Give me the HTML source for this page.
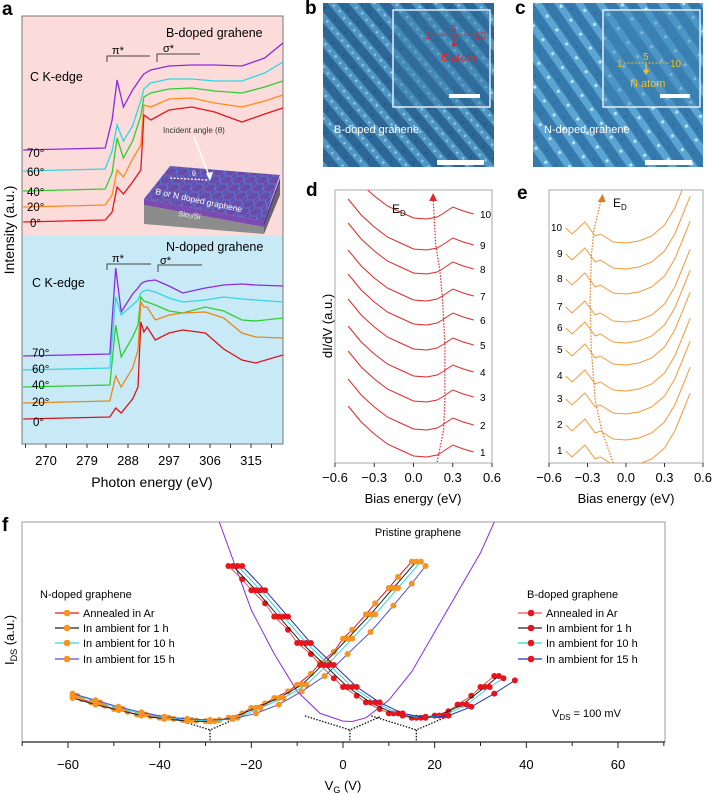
<!DOCTYPE html>
<html><head><meta charset="utf-8"><style>
body{margin:0;background:#fff}
svg{display:block;font-family:"Liberation Sans",Arial,sans-serif}
</style></head><body>
<svg id="fig" width="713" height="795" viewBox="0 0 713 795" xmlns="http://www.w3.org/2000/svg">
<defs>
<pattern id="stmB" width="16" height="16" patternUnits="userSpaceOnUse" patternTransform="rotate(50)">
<rect width="16" height="16" fill="#2c6797"/><rect width="16" height="7" fill="#4f95c2"/>
<circle cx="3" cy="3" r="1.3" fill="#8fcbe6"/><circle cx="11" cy="4" r="1.2" fill="#8fcbe6"/><circle cx="7" cy="12" r="1" fill="#1e4f7c"/>
</pattern>
<pattern id="stmN" width="17" height="17" patternUnits="userSpaceOnUse" patternTransform="rotate(55)">
<rect width="17" height="17" fill="#3579ad"/><rect width="17" height="7" fill="#5aa5d2"/>
<circle cx="4" cy="3" r="1.6" fill="#b8e6f6"/><circle cx="12" cy="13" r="1" fill="#2a6496"/>
</pattern>
<pattern id="hex" width="12" height="8" patternUnits="userSpaceOnUse" patternTransform="skewX(-30)">
<rect width="12" height="8" fill="#6b4aa8"/><path d="M0 4 L3 0 L9 0 L12 4 L9 8 L3 8 Z" fill="none" stroke="#4f7fd8" stroke-width="0.8"/>
</pattern>
<clipPath id="clipF"><rect x="22" y="522" width="643" height="220"/></clipPath>
<clipPath id="clipD"><rect x="335" y="190" width="157" height="273"/></clipPath>
<clipPath id="clipE"><rect x="549" y="190" width="154" height="273"/></clipPath>
</defs>

<!-- Panel a -->
<text x="2" y="15" font-size="19" font-weight="bold">a</text>
<rect x="22" y="16" width="261" height="219" fill="#fbdcdb"/>
<rect x="22" y="235" width="261" height="209" fill="#c7eaf6"/>
<rect x="22" y="16" width="261" height="428" fill="none" stroke="#777" stroke-width="1"/>
<g id="aCurves"></g>
<g id="aTicks"></g>
<text x="152" y="487" font-size="14" text-anchor="middle">Photon energy (eV)</text>
<text transform="translate(14,230) rotate(-90)" font-size="14" text-anchor="middle">Intensity (a.u.)</text>
<text x="166" y="37" font-size="12.5">B-doped grahene</text>
<text x="30" y="81" font-size="12.5">C K-edge</text>
<text x="166" y="251" font-size="12.5">N-doped grahene</text>
<text x="32" y="287" font-size="12.5">C K-edge</text>
<g stroke="#444" fill="none" stroke-width="1">
<path d="M107 62 V56 H150"/><path d="M157 62 V54 H200"/>
<path d="M107 270 V264 H151"/><path d="M158 272 V265 H202"/>
</g>
<text x="112" y="54" font-size="11">π*</text>
<text x="163" y="52" font-size="11">σ*</text>
<text x="112" y="262" font-size="11">π*</text>
<text x="160" y="264" font-size="11">σ*</text>
<g font-size="11.5">
<text x="27" y="157">70°</text><text x="27" y="176">60°</text><text x="27" y="196">40°</text><text x="27" y="211">20°</text><text x="30" y="227">0°</text>
<text x="32" y="357">70°</text><text x="32" y="373">60°</text><text x="32" y="389">40°</text><text x="32" y="406">20°</text><text x="33" y="426">0°</text>
</g>
<!-- inset 3D sample -->
<g>
<polygon points="144,205 264,227 264,234 144,224" fill="#8c8c8c"/>
<polygon points="264,227 280,183 280,195 264,234" fill="#666"/>
<polygon points="144,199 264,221 264,227 144,205" fill="#7a4bb0"/>
<polygon points="264,221 280,178 280,183 264,227" fill="#5a3590"/>
<polygon points="144,199 170,166 280,175 264,221" fill="url(#hex)"/>
<text x="163" y="133" font-size="8" fill="#333">Incident angle (θ)</text>
<line x1="194" y1="137" x2="210" y2="178" stroke="#fff" stroke-width="1.6"/>
<polygon points="210,181 206,173 213,172" fill="#fff"/>
<line x1="170" y1="178" x2="208" y2="180" stroke="#fff" stroke-width="1.3" stroke-dasharray="2,1.5"/>
<text x="192" y="176" font-size="7" fill="#fff">θ</text>
<text transform="translate(155,194) rotate(12)" font-size="8.5" fill="#fff">B or N doped graphene</text>
<text transform="translate(178,216) rotate(8)" font-size="7.5" fill="#eee">Sio₂/Si</text>
</g>

<!-- Panel b -->
<text x="305" y="14" font-size="19" font-weight="bold">b</text>
<rect x="323" y="3" width="171" height="164" fill="url(#stmB)"/>
<rect x="393" y="10" width="97" height="97" fill="#3577a6" stroke="#fff" stroke-width="1.3"/>
<rect x="394" y="11" width="95" height="95" fill="url(#stmB)" opacity="0.6"/>
<rect x="449" y="94" width="31" height="4" fill="#fff"/>
<rect x="437" y="160" width="47" height="5" fill="#fff"/>
<line x1="432" y1="35" x2="475" y2="35" stroke="#e0242a" stroke-dasharray="2,1.5"/>
<line x1="454" y1="36" x2="454" y2="44" stroke="#e0242a" stroke-width="1.3"/>
<polygon points="451,43 457,43 454,48" fill="#e0242a"/>
<g fill="#e0242a" font-size="10">
<text x="425" y="39">1</text><text x="451" y="32">5</text><text x="475" y="39">10</text><text x="441" y="61" font-size="11">B atom</text></g>
<text x="334" y="133" font-size="11" fill="#fff">B-doped grahene</text>

<!-- Panel c -->
<text x="515" y="14" font-size="19" font-weight="bold">c</text>
<rect x="533" y="3" width="170" height="164" fill="url(#stmN)"/>
<rect x="603" y="10" width="97" height="97" fill="#3e86b8" stroke="#fff" stroke-width="1.3"/>
<rect x="604" y="11" width="95" height="95" fill="url(#stmN)" opacity="0.5"/>
<rect x="660" y="94" width="30" height="4" fill="#fff"/>
<rect x="645" y="160" width="47" height="5" fill="#fff"/>
<line x1="624" y1="63" x2="670" y2="63" stroke="#f0c020" stroke-dasharray="2,1.5"/>
<line x1="646" y1="64" x2="646" y2="71" stroke="#f0c020" stroke-width="1.3"/>
<polygon points="643,70 649,70 646,75" fill="#f0c020"/>
<g fill="#f0c020" font-size="10">
<text x="617" y="67">1</text><text x="643" y="60">5</text><text x="670" y="67">10</text><text x="630" y="87" font-size="11">N atom</text></g>
<text x="544" y="133" font-size="11" fill="#fff">N-doped grahene</text>

<!-- Panel d -->
<text x="306" y="196" font-size="19" font-weight="bold">d</text>
<rect x="335" y="190" width="157" height="273" fill="none" stroke="#aaa"/>
<g id="dCurves"></g>
<text transform="translate(332,326) rotate(-90)" font-size="13" text-anchor="middle">dI/dV (a.u.)</text>
<text x="413" y="503" font-size="13" text-anchor="middle">Bias energy (eV)</text>
<text x="392" y="213" font-size="12">E<tspan font-size="8" dy="3">D</tspan></text>

<!-- Panel e -->
<text x="517" y="199" font-size="19" font-weight="bold">e</text>
<rect x="549" y="190" width="154" height="273" fill="none" stroke="#aaa"/>
<g id="eCurves"></g>
<text x="626" y="503" font-size="13" text-anchor="middle">Bias energy (eV)</text>
<text x="613" y="207" font-size="12">E<tspan font-size="8" dy="3">D</tspan></text>

<!-- Panel f -->
<text x="2" y="531" font-size="19" font-weight="bold">f</text>
<path d="M22 742 V522 H665 V742" fill="none" stroke="#999"/>
<line x1="22" y1="742" x2="665" y2="742" stroke="#222" stroke-width="1.2"/>
<g id="fTicks"></g>
<g id="fCurves" clip-path="url(#clipF)"></g>
<text x="343" y="790" font-size="13" text-anchor="middle">V<tspan font-size="9" dy="3">G</tspan><tspan dy="-3"> (V)</tspan></text>
<text transform="translate(14,640) rotate(-90)" font-size="13" text-anchor="middle">I<tspan font-size="9" dy="3">DS</tspan><tspan dy="-3"> (a.u.)</tspan></text>
<text x="418" y="536" font-size="11" text-anchor="middle">Pristine graphene</text>
<text x="552" y="717" font-size="11">V<tspan font-size="8" dy="3">DS</tspan><tspan dy="-3"> = 100 mV</tspan></text>
<g id="fLegend"></g>

<script>
const NS="http://www.w3.org/2000/svg";
function mk(tag,attrs,parent){const e=document.createElementNS(NS,tag);for(const k in attrs)e.setAttribute(k,attrs[k]);parent.appendChild(e);return e;}
function pts(xs,ys){return xs.map((x,i)=>x.toFixed(1)+","+ys[i].toFixed(1)).join(" ");}

/* ---------- Panel a data ---------- */
const aTopEnergy=[265,283,284.5,285.6,287,289,290.8,291.5,293,297,302,307,313,318,322];
const aTop70=[0,2,30,70,43,60,72,76,80,84,85,85,84,92,107];
const aTop60=[0,2,20,46,30,45,70,82,88,92,92,90,90,98,109];
const aTop40=[0,2,18,53,33,50,75,94,98,102,103,100,98,104,110];
const aTop20=[0,2,12,37,30,48,62,102,100,108,109,104,100,106,112];
const aTop0=[0,2,10,35,28,40,52,107,102,112,115,110,100,108,114];
const aBotEnergy=[265,284,285.3,286.5,289,290.2,290.8,291.5,292.2,294,297,300,305,309,313,316,322];
const aBot70=[0,2,88,44,62,68,72,74,75,76,70,63,68,71,72,71,70];
const aBot60=[0,2,73,55,65,70,77,79,80,78,72,68,70,73,71,70,68];
const aBot40=[0,2,62,30,50,62,90,86,85,82,76,74,80,76,67,66,69];
const aBot20=[0,2,27,16,35,53,101,96,96,83,88,90,91,85,70,66,65];
const aBot0=[0,2,11,6,20,32,97,87,92,79,86,89,86,70,59,56,64];
const aTicks=[270,279,288,297,306,315];
const xA=e=>46+(e-270)*41/9;
const gA=document.getElementById('aCurves');
const aTopSeries=[[aTop70,150,'#8a2be2','a-top-70deg'],[aTop60,171,'#33d6e0','a-top-60deg'],[aTop40,191,'#33cc33','a-top-40deg'],[aTop20,207,'#ff8c1a','a-top-20deg'],[aTop0,222,'#e8141c','a-top-0deg']];
aTopSeries.forEach(s=>{
  const l=mk('polyline',{points:pts(aTopEnergy.map(xA),s[0].map(v=>s[1]-v)),fill:'none',stroke:s[2],'stroke-width':1.3},gA);
  
  
});
const aBotSeries=[[aBot70,356,'#8a2be2','a-bottom-70deg'],[aBot60,370,'#33d6e0','a-bottom-60deg'],[aBot40,387,'#33cc33','a-bottom-40deg'],[aBot20,403,'#e8881a','a-bottom-20deg'],[aBot0,419,'#d9141c','a-bottom-0deg']];
aBotSeries.forEach(s=>{
  const l=mk('polyline',{points:pts(aBotEnergy.map(xA),s[0].map(v=>s[1]-v)),fill:'none',stroke:s[2],'stroke-width':1.3},gA);
  
  
});
const gAT=document.getElementById('aTicks');
for(let e=265.5;e<=322;e+=4.5){mk('line',{x1:xA(e),x2:xA(e),y1:444,y2:448,stroke:'#333'},gAT);}
aTicks.forEach(t=>{
  const tx=mk('text',{x:xA(t),y:465,'font-size':13,'text-anchor':'middle'},gAT);
  tx.textContent=t;
  
  
});

/* ---------- Panel d data ---------- */
const dBias=[-0.5,-0.4,-0.3,-0.2,-0.1,0,0.1,0.18,0.22,0.3,0.38,0.46];
const dShape=[46,30,18,8,2,-4,-5,-3,0,7,3,0];
const dLevels=[452,425,397,372,345,320,296,269,245,214];
const dLabels=['1','2','3','4','5','6','7','8','9','10'];
const dDiracBias=[0.18,0.23,0.24,0.24,0.24,0.23,0.22,0.2,0.17,0.15];
const dDiracY=[462,430,400,372,345,320,296,269,245,198];
const xD=v=>335+(v+0.6)*157/1.2;
const gD=document.getElementById('dCurves');
const gDc=mk('g',{'clip-path':'url(#clipD)'},gD);
dLevels.forEach((lv,i)=>{
  const l=mk('polyline',{points:pts(dBias.map(xD),dShape.map(v=>lv-v)),fill:'none',stroke:'#e0282a','stroke-width':1},gDc);
  
  
  const t=mk('text',{x:480,y:lv+4,'font-size':10},gD);
  t.textContent=dLabels[i];
  
  
});
const dl=mk('polyline',{points:pts(dDiracBias.map(xD),dDiracY),fill:'none',stroke:'#e0282a','stroke-width':1.2,'stroke-dasharray':'1.5,1.5'},gD);


mk('polygon',{points:`${xD(0.15)-4},201 ${xD(0.15)+4},201 ${xD(0.15)},193`,fill:'#e0282a'},gD);

/* ---------- Panel e data ---------- */
const eBias=[-0.47,-0.42,-0.32,-0.24,-0.2,-0.1,0,0.1,0.2,0.3,0.38,0.45,0.5];
const eShape=[0,-6,6,-8,-6,-14,-15,-13,-8,3,20,42,58];
const eLevels=[451,425,399,376,350,328,307,279,254,228];
const eDiracBias=[-0.1,-0.19,-0.24,-0.27,-0.28,-0.27,-0.25,-0.19];
const eDiracY=[463,430,400,350,300,255,230,198];
const xE=v=>549+(v+0.6)*154/1.2;
const gE=document.getElementById('eCurves');
const gEc=mk('g',{'clip-path':'url(#clipE)'},gE);
eLevels.forEach((lv,i)=>{
  const l=mk('polyline',{points:pts(eBias.map(xE),eShape.map(v=>lv-v)),fill:'none',stroke:'#f39a3c','stroke-width':1},gEc);
  
  
  const t=mk('text',{x:dLabels[i]==='10'?551:557,y:lv+3,'font-size':10},gE);
  t.textContent=dLabels[i];
  
  
});
const el=mk('polyline',{points:pts(eDiracBias.map(xE),eDiracY),fill:'none',stroke:'#e07a20','stroke-width':1.2,'stroke-dasharray':'1.5,1.5'},gE);


mk('polygon',{points:`${xE(-0.19)-4},202 ${xE(-0.19)+4},202 ${xE(-0.19)+1},194`,fill:'#e07a20'},gE);

const biasTicks=[-0.6,-0.3,0.0,0.3,0.6];
const biasTickLabels=['\u22120.6','\u22120.3','0.0','0.3','0.6'];
[[xD,'d'],[xE,'e']].forEach(([sx,p])=>{
  biasTicks.forEach((v,i)=>{
    mk('line',{x1:sx(v),x2:sx(v),y1:463,y2:467,stroke:'#333'},p==='d'?gD:gE);
    const t=mk('text',{x:sx(v),y:482,'font-size':13,'text-anchor':'middle'},p==='d'?gD:gE);
    t.textContent=biasTickLabels[i];
    
    
  });
});

/* ---------- Panel f data ---------- */
const nAnnV=[-59,-57,-55,-52,-50,-47,-45,-42,-40,-37,-35,-32,-30,-27,-25,-22,-20,-17,-15,-12,-10,-7,-5,-2,0,2,5,7,10,12,15];
const nAnnI=[21,19.5,18,16.5,15,13.7,12.5,11.7,11,10.5,10,9.7,9.5,10,11,13,15.5,17.5,20,23,26,31,36,41,47,51,58,63,70,75,82];
const n1hV=[-59,-54,-49,-44,-39,-34,-29,-24,-19,-14,-9,-4,1,6,11,16];
const n1hI=[20,17,14.5,12,10.5,9.5,9.3,11,15.5,20,26,36,47,58,70,82];
const n10hV=[-58,-53,-48,-43,-38,-33,-28,-23,-18,-13,-8,-3,2,7,12,17];
const n10hI=[21,18,15,12.5,11,10,9.5,11,15.5,20,26,36,47,58,70,82];
const n15hV=[-59,-54,-49,-44,-39,-34,-29,-24,-19,-14,-9,-4,1,6,11,15,18];
const n15hI=[22,19,16,13.5,11.5,10.5,10,10.5,13,17,23,30,40,50,62,72,80];
const bAnnV=[-25,-22,-20,-17,-15,-12,-10,-7,-5,-2,0,3,5,8,10,13,15,18,20,23,25,28,30,33];
const bAnnI=[80,74,69,63,57,51,45,40,35,29,25,21,18,15,13,12,11,11.5,12,14,17,21,25,30];
const b1hV=[-24,-19,-14,-9,-4,1,6,11,16,21,26,31,34];
const b1hI=[80,69,57,45,35,25,18,13,11,12,17,25,30];
const b10hV=[-23,-18,-13,-8,-3,2,7,12,17,22,27,32,35];
const b10hI=[80,69,57,45,35,25,18,13,11,12,17,25,29];
const b15hV=[-22,-17,-12,-7,-2,3,8,13,18,23,28,33,37.5];
const b15hI=[80,69,57,45,35,25,18,13,11,12,16,22,28];
const priV=[-27,-20,-15,-10,-5,0,2,5,10,15,20,25,30,33];
const priI=[100,60,40,23,13,9.5,9.3,11,19,32,50,68,86,100];
const diracV=[-29,1.5,16];
const diracI=[5.5,5.5,5.5];
const fTicks=[-60,-40,-20,0,20,40,60];
const fTickLabels=['\u221260','\u221240','\u221220','0','20','40','60'];
const xF=v=>343+v*550/120;
const yF=i=>742-i*2.2;

const gF=document.getElementById('fCurves');
const gFT=document.getElementById('fTicks');
for(let v=-70;v<=70;v+=10){mk('line',{x1:xF(v),x2:xF(v),y1:742,y2:v%20===0?748:746,stroke:'#222'},gFT);}
fTicks.forEach((v,i)=>{
  const t=mk('text',{x:xF(v),y:769,'font-size':13,'text-anchor':'middle'},gFT);
  t.textContent=fTickLabels[i];
  
  
});

const pl=mk('polyline',{points:pts(priV.map(xF),priI.map(yF)),fill:'none',stroke:'#8a2be2','stroke-width':1},gF);



const gDot=mk('g',{stroke:'#111','stroke-width':1.3,'stroke-dasharray':'1.5,1.5',fill:'none'},gF);


diracV.forEach((v,i)=>{
  mk('line',{x1:xF(v),y1:yF(diracI[i]),x2:xF(v),y2:742},gDot);
  mk('line',{x1:xF(v)-45,y1:yF(diracI[i])-14,x2:xF(v),y2:yF(diracI[i])},gDot);
  mk('line',{x1:xF(v)+30,y1:yF(diracI[i])-13,x2:xF(v),y2:yF(diracI[i])},gDot);
});

const fSeries=[
 [nAnnV,nAnnI,'#e8141c','#f7931e','n-annealed-ar'],
 [n1hV,n1hI,'#222','#f7931e','n-ambient-1h'],
 [n10hV,n10hI,'#33d6e0','#f7931e','n-ambient-10h'],
 [n15hV,n15hI,'#4f4fd0','#f7931e','n-ambient-15h'],
 [bAnnV,bAnnI,'#e8505a','#e8141c','b-annealed-ar'],
 [b1hV,b1hI,'#222','#e8141c','b-ambient-1h'],
 [b10hV,b10hI,'#33d6e0','#e8141c','b-ambient-10h'],
 [b15hV,b15hI,'#2233aa','#e8141c','b-ambient-15h']
];
fSeries.forEach(s=>{
  const g=mk('g',{},gF);
  
  
  mk('polyline',{points:pts(s[0].map(xF),s[1].map(yF)),fill:'none',stroke:s[2],'stroke-width':1},g);
  s[0].forEach((v,i)=>{
    const c=mk('circle',{cx:xF(v),cy:yF(s[1][i]),r:3,fill:s[3]},g);
    
    
  });
});

const legN=['Annealed in Ar','In ambient for 1 h','In ambient for 10 h','In ambient for 15 h'];
const legLineN=['#e8141c','#222','#33d6e0','#4f4fd0'];
const legLineB=['#e8505a','#222','#33d6e0','#2233aa'];
const gL=document.getElementById('fLegend');
const tN=mk('text',{x:40,y:598,'font-size':11},gL);tN.textContent='N-doped graphene';


const tB=mk('text',{x:527,y:598,'font-size':11},gL);tB.textContent='B-doped graphene';


const legY=[613,628,643,659];
legN.forEach((lab,i)=>{
  const g1=mk('g',{},gL);
  
  
  mk('line',{x1:55,x2:79,y1:legY[i],y2:legY[i],stroke:legLineN[i],'stroke-width':1.2},g1);
  mk('circle',{cx:67,cy:legY[i],r:3.3,fill:'#f7931e'},g1);
  const t=mk('text',{x:83,y:legY[i]+4,'font-size':11},g1);t.textContent=lab;
  const g2=mk('g',{},gL);
  
  
  mk('line',{x1:518,x2:542,y1:legY[i],y2:legY[i],stroke:legLineB[i],'stroke-width':1.2},g2);
  mk('circle',{cx:531,cy:legY[i],r:3.3,fill:'#e8141c'},g2);
  const t2=mk('text',{x:546,y:legY[i]+4,'font-size':11},g2);t2.textContent=lab;
});
</script>
</svg>
</body></html>
